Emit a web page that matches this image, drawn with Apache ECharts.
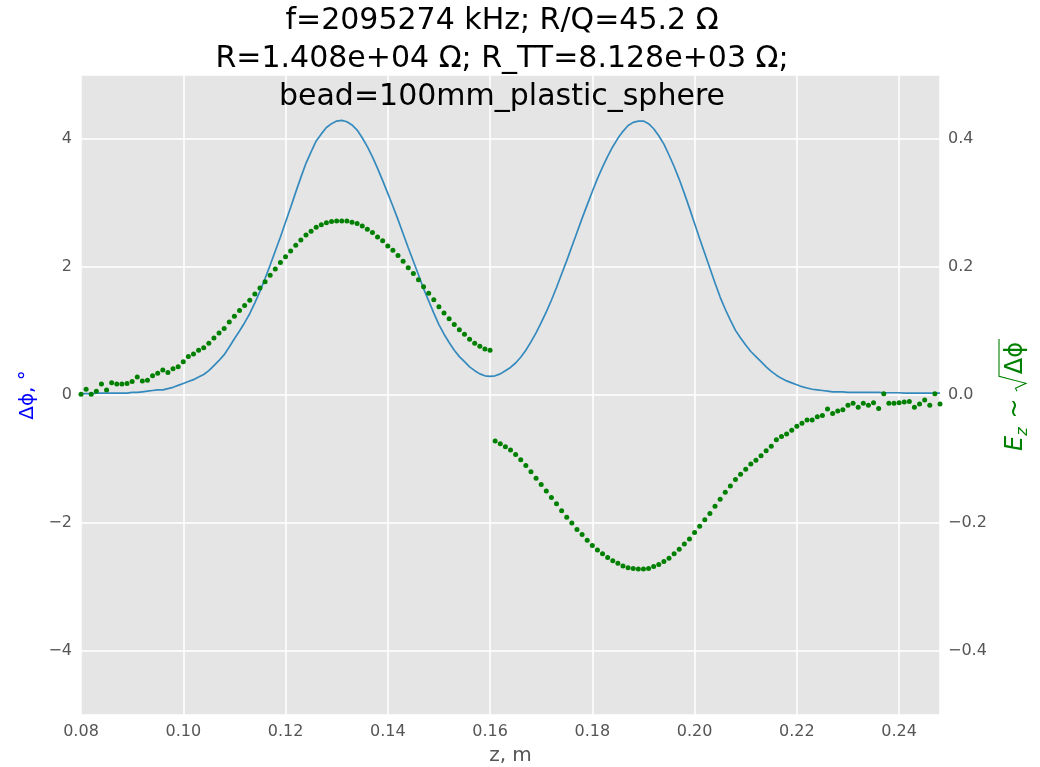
<!DOCTYPE html>
<html>
<head>
<meta charset="utf-8">
<script src="https://cdn.jsdelivr.net/npm/echarts@6/dist/echarts.min.js"></script>
<style>
html,body{margin:0;padding:0;background:#fff;}
#chart{width:1040px;height:767px;}
</style>
</head>
<body>
<div id="chart"></div>
<script>
// z positions (m)
const z = [
0.080,0.081,0.082,0.083,0.084,0.085,0.086,0.087,0.088,0.089,
0.090,0.091,0.092,0.093,0.094,0.095,0.096,0.097,0.098,0.099,
0.100,0.101,0.102,0.103,0.104,0.105,0.106,0.107,0.108,0.109,
0.110,0.111,0.112,0.113,0.114,0.115,0.116,0.117,0.118,0.119,
0.120,0.121,0.122,0.123,0.124,0.125,0.126,0.127,0.128,0.129,
0.130,0.131,0.132,0.133,0.134,0.135,0.136,0.137,0.138,0.139,
0.140,0.141,0.142,0.143,0.144,0.145,0.146,0.147,0.148,0.149,
0.150,0.151,0.152,0.153,0.154,0.155,0.156,0.157,0.158,0.159,
0.160,0.161,0.162,0.163,0.164,0.165,0.166,0.167,0.168,0.169,
0.170,0.171,0.172,0.173,0.174,0.175,0.176,0.177,0.178,0.179,
0.180,0.181,0.182,0.183,0.184,0.185,0.186,0.187,0.188,0.189,
0.190,0.191,0.192,0.193,0.194,0.195,0.196,0.197,0.198,0.199,
0.200,0.201,0.202,0.203,0.204,0.205,0.206,0.207,0.208,0.209,
0.210,0.211,0.212,0.213,0.214,0.215,0.216,0.217,0.218,0.219,
0.220,0.221,0.222,0.223,0.224,0.225,0.226,0.227,0.228,0.229,
0.230,0.231,0.232,0.233,0.234,0.235,0.236,0.237,0.238,0.239,
0.240,0.241,0.242,0.243,0.244,0.245,0.246,0.247,0.248
];
// phase shift, degrees (left axis)
const dphi = [
0.02,0.02,0.02,0.03,0.03,0.03,0.03,0.03,0.03,0.03,
0.04,0.04,0.05,0.06,0.07,0.08,0.08,0.10,0.12,0.15,
0.18,0.21,0.24,0.28,0.32,0.38,0.46,0.54,0.63,0.75,
0.88,1.00,1.13,1.27,1.44,1.62,1.82,2.03,2.25,2.47,
2.70,2.93,3.17,3.40,3.62,3.80,3.97,4.08,4.18,4.24,
4.28,4.29,4.27,4.22,4.14,4.02,3.88,3.72,3.54,3.35,
3.15,2.95,2.74,2.52,2.30,2.09,1.88,1.66,1.47,1.28,
1.10,0.95,0.82,0.70,0.60,0.52,0.44,0.38,0.33,0.30,
0.29,0.30,0.33,0.38,0.43,0.50,0.59,0.70,0.83,0.97,
1.13,1.30,1.48,1.68,1.89,2.10,2.32,2.54,2.76,2.97,
3.18,3.38,3.56,3.73,3.88,4.01,4.12,4.21,4.26,4.28,
4.28,4.24,4.16,4.05,3.92,3.75,3.57,3.37,3.15,2.92,
2.68,2.44,2.21,1.98,1.75,1.53,1.34,1.17,1.01,0.89,
0.78,0.68,0.60,0.52,0.44,0.37,0.31,0.26,0.22,0.19,
0.16,0.13,0.11,0.09,0.08,0.07,0.06,0.05,0.05,0.05,
0.04,0.04,0.04,0.04,0.04,0.04,0.04,0.035,0.035,0.035,
0.035,0.03,0.03,0.03,0.03,0.03,0.03,0.03,0.03
];
// Ez ~ sqrt(dphi) (right axis)
const ez = [
0.001,0.009,0.001,0.006,0.017,0.008,0.019,0.017,0.017,0.018,
0.021,0.028,0.022,0.023,0.030,0.034,0.039,0.035,0.041,0.044,
0.052,0.060,0.064,0.070,0.074,0.081,0.089,0.097,0.104,0.114,
0.123,0.132,0.140,0.148,0.158,0.167,0.177,0.187,0.197,0.207,
0.216,0.225,0.234,0.242,0.250,0.256,0.262,0.266,0.269,0.271,
0.272,0.272,0.272,0.270,0.268,0.264,0.259,0.254,0.247,0.241,
0.233,0.226,0.218,0.209,0.199,0.190,0.180,0.169,0.159,0.149,
0.138,0.128,0.119,0.110,0.102,0.095,0.087,0.081,0.076,0.072,
0.070,-0.072,-0.076,-0.081,-0.086,-0.093,-0.101,-0.110,-0.120,-0.130,
-0.140,-0.150,-0.160,-0.170,-0.181,-0.191,-0.200,-0.210,-0.218,-0.227,
-0.235,-0.242,-0.248,-0.254,-0.259,-0.263,-0.267,-0.270,-0.271,-0.272,
-0.272,-0.271,-0.268,-0.265,-0.260,-0.255,-0.248,-0.241,-0.233,-0.225,
-0.215,-0.205,-0.195,-0.185,-0.174,-0.163,-0.152,-0.142,-0.132,-0.124,
-0.116,-0.108,-0.102,-0.095,-0.087,-0.080,-0.070,-0.065,-0.061,-0.055,
-0.049,-0.044,-0.039,-0.039,-0.034,-0.032,-0.022,-0.029,-0.025,-0.023,
-0.016,-0.013,-0.019,-0.013,-0.016,-0.012,-0.021,0.002,-0.013,-0.013,
-0.012,-0.011,-0.010,-0.019,-0.014,-0.008,-0.016,0.002,-0.014
];
const titleLines = [
  'f=2095274 kHz; R/Q=45.2 Ω',
  'R=1.408e+04 Ω; R_TT=8.128e+03 Ω;',
  'bead=100mm_plastic_sphere'
];
const xName = 'z, m';
const yLeftName = 'Δϕ, °';
const yRightParts = ['E', 'z', '~', 'Δϕ']; // E_z ~ sqrt(Δϕ)

const FONT = '"DejaVu Sans", sans-serif';
const minus = s => s.replace('-', '\u2212');
const GREEN = '#008000';

// --- right axis label (E_z ~ sqrt(Δϕ)) built as a rotated group
const mctx = document.createElement('canvas').getContext('2d');
function tw(font, s) { mctx.font = font; return mctx.measureText(s).width; }
const F24 = '24px ' + FONT, F24i = 'italic 24px ' + FONT, F16i = 'italic 16px ' + FONT;
const wE = tw(F24i, yRightParts[0]);
const wz = tw(F16i, yRightParts[1]);
const wT = tw(F24, yRightParts[2]);
const wR = 15;
const wD = tw(F24, yRightParts[3]);
const sp = 7;
const total = wE + wz + 2 + sp + wT + sp + wR + 2 + wD + 3;
let cx = -total / 2;
const rl = [];
rl.push({type: 'text', x: cx, y: 0, style: {text: yRightParts[0], font: F24i, fill: GREEN, align: 'left', verticalAlign: 'middle'}});
cx += wE;
rl.push({type: 'text', x: cx, y: 7, style: {text: yRightParts[1], font: F16i, fill: GREEN, align: 'left', verticalAlign: 'middle'}});
cx += wz + 2 + sp;
rl.push({type: 'text', x: cx, y: 0, style: {text: yRightParts[2], font: F24, fill: GREEN, align: 'left', verticalAlign: 'middle'}});
cx += wT + sp;
const radStart = cx;
cx += wR + 2;
rl.push({type: 'text', x: cx, y: 0, style: {text: yRightParts[3], font: F24, fill: GREEN, align: 'left', verticalAlign: 'middle'}});
cx += wD + 3;
rl.push({type: 'polyline', shape: {points: [
  [radStart, 1], [radStart + 3, -0.5], [radStart + 8, 10], [radStart + wR, -17], [cx, -17]
]}, style: {stroke: GREEN, lineWidth: 1.1, fill: null}});

const chart = echarts.init(document.getElementById('chart'), null, {renderer: 'canvas'});
const option = {
  animation: false,
  backgroundColor: '#ffffff',
  textStyle: {fontFamily: FONT},
  grid: {left: 81, right: 100, top: 75, bottom: 52, show: true, backgroundColor: '#E5E5E5',
         borderWidth: 0, containLabel: false, outerBoundsMode: 'none'},
  graphic: [{
    type: 'text', x: 502, y: 2, z: 100,
    style: {
      text: titleLines.join('\n'),
      font: '30px ' + FONT,
      fill: '#000000',
      align: 'center',
      verticalAlign: 'top',
      lineHeight: 38
    }
  }, {
    type: 'group', x: 1016, y: 395, rotation: Math.PI / 2, z: 100,
    children: rl
  }],
  xAxis: {
    type: 'value', min: 0.08, max: 0.248, interval: 0.02,
    name: xName, nameLocation: 'middle', nameGap: 31,
    nameTextStyle: {fontSize: 20, color: '#555555', fontFamily: FONT},
    axisLine: {show: false}, axisTick: {show: false},
    axisLabel: {fontSize: 16, color: '#555555', margin: 9, fontFamily: FONT,
      showMaxLabel: false, formatter: v => v.toFixed(2)},
    splitLine: {show: true, lineStyle: {color: '#ffffff', width: 1.5}}
  },
  yAxis: [{
    type: 'value', min: -5, max: 5, splitNumber: 5, position: 'left',
    name: yLeftName, nameLocation: 'middle', nameGap: 40, nameRotate: 90,
    nameTextStyle: {fontSize: 20, color: '#0000ff', fontFamily: FONT},
    axisLine: {show: false}, axisTick: {show: false},
    axisLabel: {fontSize: 16, color: '#555555', margin: 9, fontFamily: FONT,
      showMinLabel: false, showMaxLabel: false, formatter: v => minus(String(v))},
    splitLine: {show: true, lineStyle: {color: '#ffffff', width: 1.5}}
  }, {
    type: 'value', min: -0.5, max: 0.5, splitNumber: 5, position: 'right',
    axisLine: {show: false}, axisTick: {show: false},
    axisLabel: {fontSize: 16, color: '#555555', margin: 8, fontFamily: FONT,
      showMinLabel: false, showMaxLabel: false, formatter: v => minus(v.toFixed(1))},
    splitLine: {show: false}
  }],
  series: [{
    type: 'line', yAxisIndex: 0, showSymbol: false, symbol: 'none',
    data: z.map((x, i) => [x, dphi[i]]),
    lineStyle: {color: '#348ABD', width: 1.7},
    z: 2
  }, {
    type: 'scatter', yAxisIndex: 1, symbolSize: 5,
    data: z.map((x, i) => [x, ez[i]]),
    itemStyle: {color: GREEN, opacity: 1},
    z: 3
  }]
};
chart.setOption(option);
</script>
</body>
</html>
